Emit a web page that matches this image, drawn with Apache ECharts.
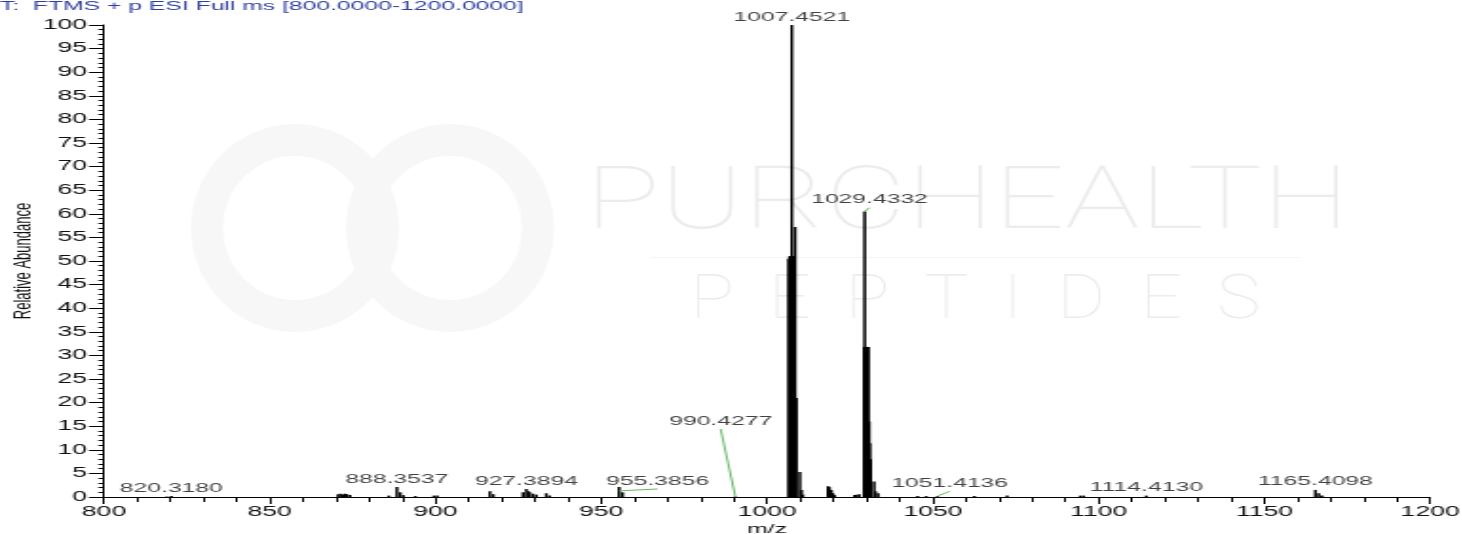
<!DOCTYPE html>
<html>
<head>
<meta charset="utf-8">
<title>FTMS spectrum</title>
<script src="https://cdn.jsdelivr.net/npm/echarts@6/dist/echarts.min.js"></script>
<style>
  html, body { margin: 0; padding: 0; background: #fff; overflow: hidden; }
  #myChart { height: 534px; transform-origin: 0 0; }
</style>
</head>
<body>
<div id="myChart"></div>
<script>
// the original export is stretched sideways, so the chart is drawn narrow and widened
const STRETCH = 1.9;

// baseline sticks (m/z, relative abundance)
const lowMz = [818.9, 820.318, 870.6, 871.3, 872.0, 872.6, 873.3, 874.2, 885.9, 888.3537, 889.35, 890.3,
  893.9, 899.5, 900.5, 916.4, 917.4, 926.4, 927.3894, 928.0, 928.4, 929.4, 930.4, 933.4, 934.4,
  955.3856, 956.4, 990.4277, 1018.4, 1018.8, 1019.4, 1019.9, 1020.4, 1026.4, 1027.0, 1027.8,
  1045.4, 1048.0, 1051.4136, 1062.5, 1072.4, 1094.5, 1095.5, 1114.413, 1165.4098, 1166.4, 1167.4];
const lowAbund = [0.1, 0.2, 0.6, 0.7, 0.5, 0.7, 0.6, 0.4, 0.3, 2.1, 1.0, 0.4,
  0.2, 0.3, 0.3, 1.2, 0.6, 1.0, 1.7, 1.2, 1.0, 0.7, 0.5, 0.8, 0.3,
  2.1, 1.0, 0.1, 2.3, 2.1, 1.5, 0.8, 0.4, 0.4, 0.5, 0.6,
  0.2, 0.2, 0.2, 0.2, 0.3, 0.3, 0.3, 0.3, 1.5, 0.8, 0.3];

// base peak cluster
const c1Mz = [1006.5, 1006.8, 1007.1, 1007.3, 1007.4521, 1007.6, 1007.85, 1008.1, 1008.25, 1008.4521,
  1008.6, 1008.8, 1009.9, 1010.4, 1010.8];
const c1Abund = [50.5, 51, 51, 51, 100, 51, 51, 51, 21, 57.2, 21, 21, 5.3, 1.5, 0.5];

// second cluster
const c2Mz = [1029.3, 1029.4332, 1029.6, 1029.85, 1030.1, 1030.35, 1030.55, 1030.8, 1031.0, 1031.25,
  1032.3, 1032.7, 1033.5];
const c2Abund = [31.8, 60.5, 31.8, 31.8, 31.8, 31.8, 31.8, 16, 11.4, 8, 3.3, 1.2, 0.8];

// labelled peaks, and where a green leader takes the label to
const labelMz = [820.3180, 888.3537, 927.3894, 955.3856, 990.4277, 1007.4521, 1029.4332, 1051.4136, 1114.4130, 1165.4098];
const labelAbund = [0.2, 2.1, 1.7, 1.3, 0.1, 100, 60.5, 0.2, 0.3, 1.5];
const leaderEndMz = [null, null, null, 967.0, 986.0, null, 1030.9, 1055.1, null, null];
const leaderEndAbund = [null, null, null, 1.7, 14.4, null, 61.3, 1.2, null, null];

const xTicks = { min: 800, max: 1200, step: 50 };
const yTicks = { min: 0, max: 100, step: 5 };

const W = 1462 / STRETCH;
const el = document.getElementById('myChart');
el.style.width = W + 'px';
el.style.transform = 'scaleX(' + STRETCH + ')';

const font = 'Liberation Sans, Arial, sans-serif';
const thinFont = 'Roboto, Inter, Lato, sans-serif';

const sticks = [];
lowMz.forEach((m, i) => sticks.push([m, lowAbund[i]]));
c1Mz.forEach((m, i) => sticks.push([m, c1Abund[i]]));
c2Mz.forEach((m, i) => sticks.push([m, c2Abund[i]]));

const leaders = [];
labelMz.forEach((m, i) => {
  if (leaderEndMz[i] != null) {
    leaders.push({
      type: 'line',
      data: [[m, labelAbund[i]], [leaderEndMz[i], leaderEndAbund[i]]],
      symbol: 'none',
      silent: true,
      z: 3,
      lineStyle: { color: '#62b862', width: 1 }
    });
  }
});

const labelPoints = labelMz.map((m, i) => ({
  value: leaderEndMz[i] != null ? [leaderEndMz[i], leaderEndAbund[i]] : [m, labelAbund[i]],
  name: m.toFixed(4)
}));

const myChart = echarts.init(el, null, { renderer: 'canvas' });

const option = {
  animation: false,
  title: {
    text: 'T:  FTMS + p ESI Full ms [800.0000-1200.0000]',
    left: 0,
    top: 0,
    padding: 0,
    textStyle: { color: '#2f3f9e', fontSize: 13, fontWeight: 'normal', fontFamily: font }
  },
  grid: {
    left: 104 / STRETCH,
    right: (1462 - 1431) / STRETCH,
    top: 25,
    bottom: 37,
    containLabel: false,
    outerBoundsMode: 'none'
  },
  graphic: [{
    type: 'group',
    scaleX: 1 / STRETCH,
    silent: true,
    z: -10,
    children: [
      { type: 'ring', shape: { cx: 295, cy: 228, r: 104, r0: 72 }, style: { fill: '#f7f7f7' } },
      { type: 'ring', shape: { cx: 450, cy: 228, r: 104, r0: 72 }, style: { fill: '#f7f7f7' } },
      { type: 'text', x: 585, y: 162, scaleX: 1.42,
        style: { text: 'PURCHEALTH', fontSize: 88, fontFamily: thinFont, fontWeight: 100, fill: '#ececec', verticalAlign: 'top' } },
      { type: 'rect', shape: { x: 650, y: 257, width: 650, height: 1 }, style: { fill: '#f4f4f4' } },
      { type: 'text', x: 690, y: 271, scaleX: 1.18,
        style: { text: 'P  E  P  T  I  D  E  S', fontSize: 62, fontFamily: thinFont, fontWeight: 100, fill: '#ececec', verticalAlign: 'top' } }
    ]
  }],
  xAxis: {
    type: 'value',
    min: xTicks.min,
    max: xTicks.max,
    interval: xTicks.step,
    name: 'm/z',
    nameLocation: 'middle',
    nameGap: 26,
    nameMoveOverlap: false,
    nameTextStyle: { color: '#111', fontSize: 13, fontFamily: font },
    axisLine: { onZero: false, lineStyle: { color: '#000', width: 1 } },
    axisTick: { length: 7, lineStyle: { color: '#000' } },
    minorTick: { show: true, splitNumber: 5, length: 5, lineStyle: { color: '#000' } },
    axisLabel: { color: '#111', fontSize: 14, fontFamily: font, margin: 8, formatter: v => String(v) },
    splitLine: { show: false }
  },
  yAxis: {
    type: 'value',
    min: yTicks.min,
    max: yTicks.max,
    interval: yTicks.step,
    name: 'Relative Abundance',
    nameLocation: 'middle',
    nameRotate: 90,
    nameGap: 36,
    nameMoveOverlap: false,
    nameTextStyle: { color: '#111', fontSize: 13, fontFamily: font },
    axisLine: { show: true, lineStyle: { color: '#000', width: 1 } },
    axisTick: { show: true, length: 8, lineStyle: { color: '#000' } },
    minorTick: { show: true, splitNumber: 5, length: 3, lineStyle: { color: '#000' } },
    axisLabel: { color: '#111', fontSize: 14, fontFamily: font, margin: 9 },
    splitLine: { show: false }
  },
  series: [
    {
      name: 'spectrum',
      type: 'bar',
      data: sticks,
      barWidth: 1.5,
      itemStyle: { color: '#000' },
      z: 2
    },
    ...leaders,
    {
      name: 'labels',
      type: 'scatter',
      data: labelPoints,
      symbolSize: 1,
      itemStyle: { color: 'transparent' },
      z: 4,
      label: {
        show: true,
        position: 'top',
        distance: 1,
        formatter: p => p.name,
        color: '#111',
        fontSize: 13,
        fontFamily: font
      }
    }
  ]
};

myChart.setOption(option);
</script>
</body>
</html>
